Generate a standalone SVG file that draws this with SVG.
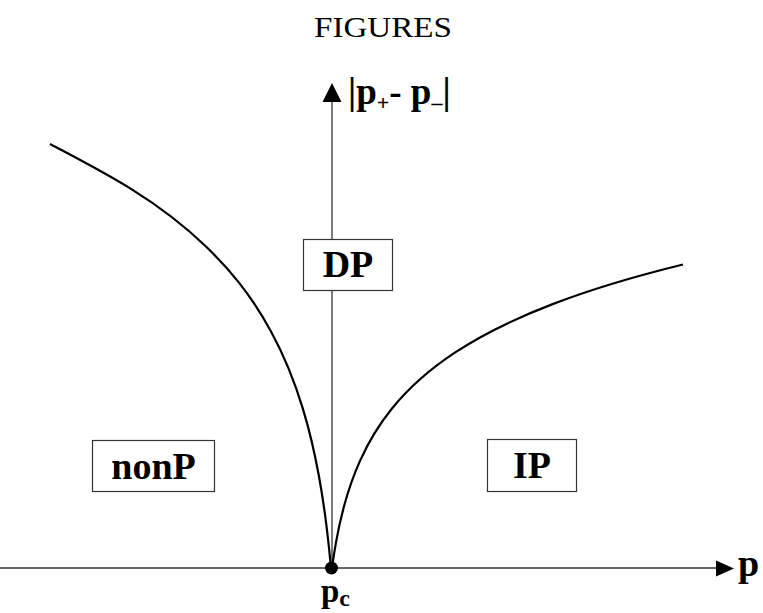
<svg xmlns="http://www.w3.org/2000/svg" width="763" height="613" viewBox="0 0 763 613">
<style>
.axis{stroke:#333;stroke-width:1.3;fill:none}
.curve{stroke:#000;stroke-width:2.2;fill:none}
.box{fill:#fff;stroke:#333;stroke-width:1.2}
.lbl{font-family:"Liberation Serif","Times New Roman",serif;font-weight:bold;fill:#000}
.title{font-family:"Liberation Serif","Times New Roman",serif;fill:#000}
</style>
<rect width="763" height="613" fill="#fff"/>
<text class="title" x="383" y="37" font-size="30" text-anchor="middle" textLength="138" lengthAdjust="spacingAndGlyphs">FIGURES</text>
<g id="connectors">
<path class="axis" d="M0,568 H717"/>
<polygon points="716,560.5 734,568.5 716,576.5" fill="#000"/>
<path class="axis" d="M332,568 V101"/>
<polygon points="322.5,102 332,83 341.5,102" fill="#000"/>
<path id="curve-left" class="curve" d="M331,568 C329.67,553.33 328.33,541.03 327,530.03 C324.33,508.03 321.67,491.17 319,476.5 C313.67,447.17 308.33,426.68 303,409.08 C292.33,373.88 281.67,351.05 271,331.49 C249.67,292.38 228.33,268.25 207,247.54 C181.67,222.95 156.33,204.71 131,188.94 C104,172.13 77,158.38 50,144"/>
<path id="curve-right" class="curve" d="M332,568 C333.33,558.11 334.67,549.82 336,542.4 C338.67,527.57 341.33,516.2 344,506.31 C349.33,486.53 354.67,472.72 360,460.85 C370.67,437.12 381.33,421.72 392,408.53 C413.33,382.16 434.67,365.89 456,351.93 C488,330.99 520,316.68 552,304.4 C595.67,287.65 639.33,275.26 683,264.55"/>
</g>
<g id="node-yaxis-label">
<text class="lbl" x="348" y="104" font-size="37">|p<tspan font-size="22" dy="6">+</tspan><tspan dy="-6">- p</tspan><tspan font-size="22" dy="6">–</tspan><tspan dy="-6">|</tspan></text>
</g>
<g id="node-DP">
<rect class="box" x="303.5" y="239.5" width="89" height="51"/>
<text class="lbl" x="348" y="277" font-size="38" text-anchor="middle">DP</text>
</g>
<g id="node-nonP">
<rect class="box" x="92.5" y="440.5" width="122" height="51"/>
<text class="lbl" x="153.5" y="479" font-size="38" text-anchor="middle">nonP</text>
</g>
<g id="node-IP">
<rect class="box" x="487.5" y="439.5" width="89" height="52"/>
<text class="lbl" x="532" y="478" font-size="38" text-anchor="middle">IP</text>
</g>
<g id="node-pc">
<circle cx="331.5" cy="568" r="6.5" fill="#000"/>
<text class="lbl" x="321" y="602" font-size="33">p<tspan font-size="24" dy="4">c</tspan></text>
</g>
<g id="node-p">
<text class="lbl" x="738" y="576" font-size="38">p</text>
</g>
</svg>
